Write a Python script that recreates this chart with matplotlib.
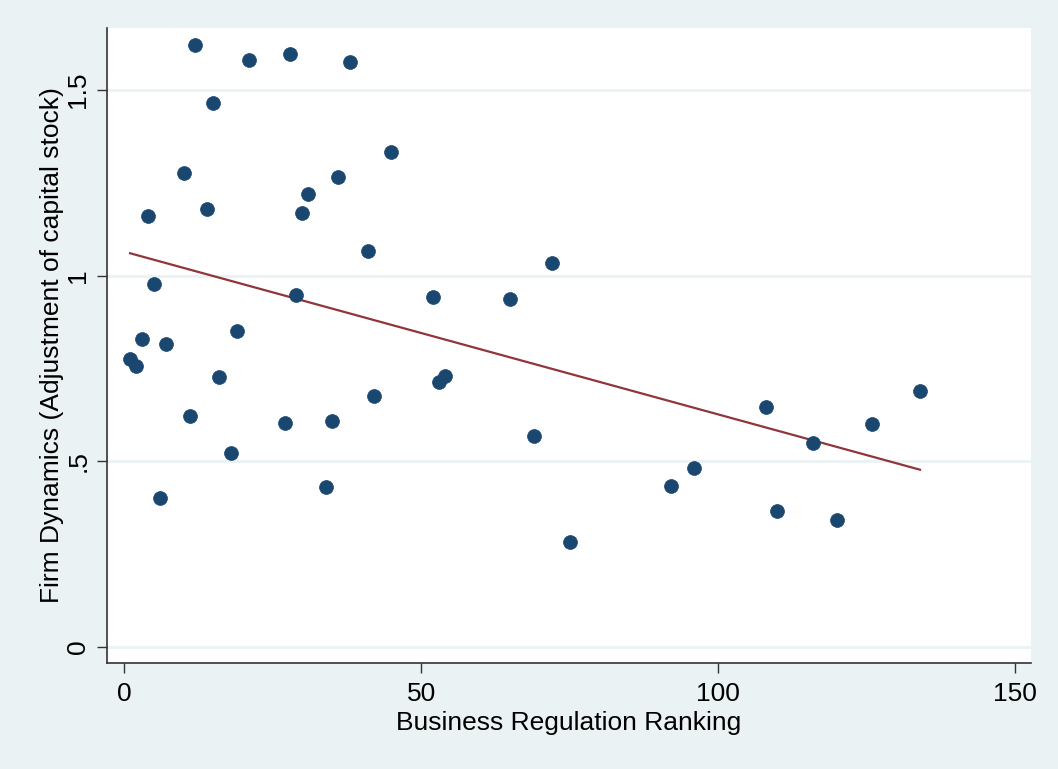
import matplotlib.pyplot as plt
import numpy as np

plt.rcParams['font.family'] = ['Liberation Sans', 'DejaVu Sans']

# Business regulation ranking vs firm dynamics
ranking = [1, 2, 3, 4, 5, 6, 7, 10, 11, 12, 14, 15, 16, 18, 19, 21,
           27, 28, 29, 30, 31, 34, 35, 36, 38, 41, 42, 45,
           52, 53, 54, 65, 69, 72, 75, 92, 96, 108, 110, 116, 120, 126, 134]
dynamics = [0.775, 0.757, 0.829, 1.160, 0.977, 0.401, 0.816, 1.276, 0.622, 1.621,
            1.179, 1.465, 0.727, 0.522, 0.851, 1.580,
            0.603, 1.597, 0.948, 1.169, 1.220, 0.431, 0.608, 1.265, 1.575,
            1.066, 0.676, 1.333,
            0.942, 0.714, 0.730, 0.937, 0.568, 1.034, 0.283,
            0.433, 0.482, 0.646, 0.366, 0.549, 0.342, 0.600, 0.689]

x = np.array(ranking, dtype=float)
y = np.array(dynamics)
# linear fit line, like Stata's lfit
b1, b0 = np.polyfit(x, y, 1)
xf = np.array([x.min(), x.max()])
yf = b0 + b1 * xf

bg = '#eaf2f3'
fig = plt.figure(figsize=(10.58, 7.69), dpi=100, facecolor=bg)
ax = fig.add_axes([0.1011, 0.1378, 0.8734, 0.8258])
ax.set_facecolor('white')

for g in [0, 0.5, 1, 1.5]:
    ax.axhline(g, color=bg, lw=2, zorder=0)

ax.plot(x, y, 'o', color='#1a476f', markersize=10, markeredgecolor='#1a476f',
        markeredgewidth=0.5, zorder=3)
ax.plot(xf, yf, color='#90353b', lw=1.6, zorder=2)

ax.set_xlim(-2.9, 152.7)
ax.set_ylim(-0.043, 1.667)
ax.set_xticks([0, 50, 100, 150])
ax.set_yticks([0, 0.5, 1, 1.5])
ax.set_yticklabels(['0', '.5', '1', '1.5'], rotation=90, va='center')

for s in ['top', 'right']:
    ax.spines[s].set_visible(False)
for s in ['left', 'bottom']:
    ax.spines[s].set_color('#333333')
    ax.spines[s].set_linewidth(1.2)

ax.tick_params(axis='both', direction='out', length=7, width=1, color='#333333',
               labelsize=19)
ax.tick_params(axis='x', pad=7)
ax.tick_params(axis='y', pad=5)
ax.set_xlabel('Business Regulation Ranking', fontsize=19, labelpad=3)
ax.set_ylabel('Firm Dynamics (Adjustment of capital stock)', fontsize=19, labelpad=2)

fig.savefig('out.png', dpi=100, facecolor=bg)
